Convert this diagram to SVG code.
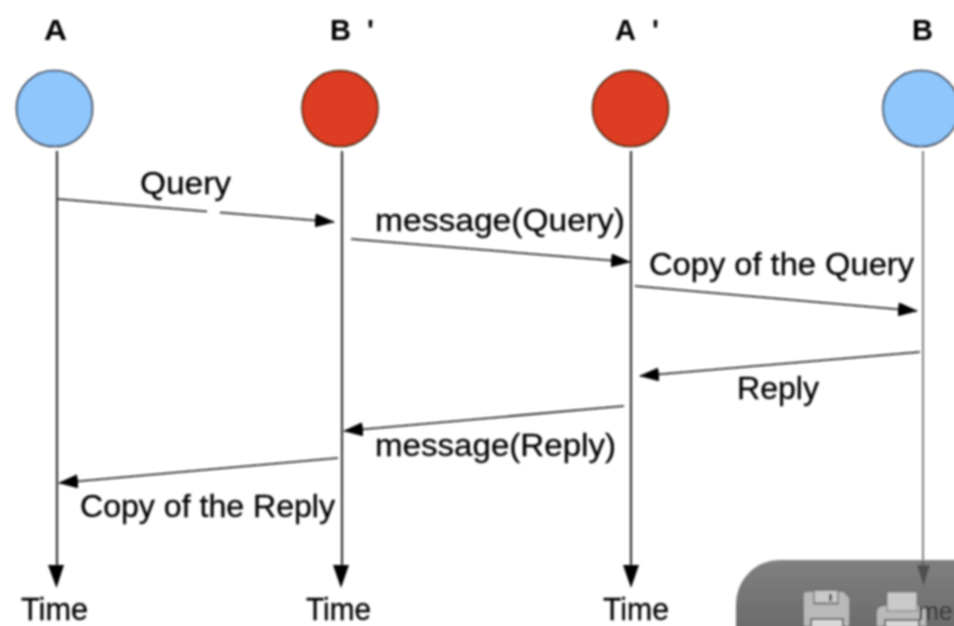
<svg xmlns="http://www.w3.org/2000/svg" width="954" height="626" viewBox="0 0 954 626">
<style>
text{font-family:"Liberation Sans",Arial,sans-serif;fill:#000}
.h{font-size:29px;font-weight:bold;fill:#000}
.l{font-size:32px;stroke:#000;stroke-width:.3px}
.life{stroke:#333;stroke-width:2.2;fill:none}
.msg{stroke:#111;stroke-width:1.5;fill:none}
.end{marker-end:url(#ah)}
.tip{fill:#000}
.blue{fill:#8fc6fb;stroke:#223;stroke-width:1.6}
.red{fill:#dd3d24;stroke:#321;stroke-width:1.6}
</style>
<defs>
<filter id="soft" filterUnits="userSpaceOnUse" x="0" y="0" width="954" height="626"><feGaussianBlur stdDeviation="0.8"/></filter>
<marker id="ah" markerUnits="userSpaceOnUse" markerWidth="20" markerHeight="14" refX="19" refY="7" orient="auto"><path d="M0 0L20 7L0 14Z" fill="#000"/></marker>
<linearGradient id="bar" x1="0" y1="0" x2="0" y2="1"><stop offset="0" stop-color="#808080"/><stop offset="1" stop-color="#5c5c5c"/></linearGradient>
</defs>
<rect width="954" height="626" fill="#fff"/>
<g id="connectors" filter="url(#soft)">
<path class="life" d="M57 151V570"/>
<path class="life" d="M342 151V570"/>
<path class="life" d="M631 151V570"/>
<path d="M923 151V560" stroke="#808080" stroke-width="2" fill="none"/>
<path class="tip" d="M48 565H64L56.500 588Z"/>
<path class="tip" d="M333 565H349L341 588Z"/>
<path class="tip" d="M623 565H639L631 588Z"/>
<path class="msg" d="M58 199L207 211.500M220 212.500L334 222" marker-end="url(#ah)"/>
<path class="msg end" d="M351 239L630 262"/>
<path class="msg end" d="M635 286L917 311"/>
<path class="msg end" d="M920 352L640 376"/>
<path class="msg end" d="M624 406L344 431"/>
<path class="msg end" d="M338 458L59 483"/>
</g>
<g id="node-a" filter="url(#soft)"><text class="h" x="44" y="40" textLength="23" lengthAdjust="spacingAndGlyphs">A</text><circle class="blue" cx="54.500" cy="108.500" r="38"/></g>
<g id="node-b-prime" filter="url(#soft)"><text class="h" x="330" y="40">B<tspan x="367" y="40">'</tspan></text><circle class="red" cx="340" cy="108.500" r="38"/></g>
<g id="node-a-prime" filter="url(#soft)"><text class="h" x="615" y="40">A<tspan x="652" y="40">'</tspan></text><circle class="red" cx="630.500" cy="108.500" r="38"/></g>
<g id="node-b" filter="url(#soft)"><text class="h" x="912" y="40">B</text><circle class="blue" cx="921" cy="108.500" r="38"/></g>
<g id="labels" filter="url(#soft)">
<text class="l" x="140" y="194" textLength="91" lengthAdjust="spacingAndGlyphs">Query</text>
<text class="l" x="375" y="231" textLength="250" lengthAdjust="spacingAndGlyphs">message(Query)</text>
<text class="l" x="649" y="275" textLength="265" lengthAdjust="spacingAndGlyphs">Copy of the Query</text>
<text class="l" x="737" y="399" textLength="82" lengthAdjust="spacingAndGlyphs">Reply</text>
<text class="l" x="375" y="456" textLength="241" lengthAdjust="spacingAndGlyphs">message(Reply)</text>
<text class="l" x="80" y="517" textLength="255" lengthAdjust="spacingAndGlyphs">Copy of the Reply</text>
<text class="l" x="21" y="620" textLength="67" lengthAdjust="spacingAndGlyphs">Time</text>
<text class="l" x="306" y="620" textLength="65" lengthAdjust="spacingAndGlyphs">Time</text>
<text class="l" x="603" y="620" textLength="66" lengthAdjust="spacingAndGlyphs">Time</text>
</g>
<g id="toolbar" filter="url(#soft)">
<rect x="736" y="560" width="300" height="120" rx="44" fill="url(#bar)"/>
<path d="M923 560V570" stroke="#5a5a5a" stroke-width="2"/>
<path d="M917 565H930L923.500 586Z" fill="#4f4f4f"/>
<path d="M804 594Q804 592 807 592H843L849 598V626H804Z" fill="#b9b9b9"/>
<rect x="813" y="591" width="26" height="14" rx="1" fill="#8a8a8a"/><rect x="815" y="591" width="22" height="11" fill="#c9c9c9"/><rect x="829" y="594" width="3" height="7" fill="#555"/>
<rect x="811" y="619" width="32" height="10" fill="#d8d8d8" stroke="#666" stroke-width="2"/>
<path d="M877 626V612Q877 606 885 606H919Q926 606 926 612V626Z" fill="#b9b9b9"/>
<rect x="887" y="592" width="30" height="19" fill="#c9c9c9" stroke="#777" stroke-width="1"/>
<rect x="885" y="620" width="34" height="8" fill="#d8d8d8" stroke="#666" stroke-width="2"/>
<text x="918" y="620" font-size="25" style="fill:#333">me</text>
</g>
</svg>
